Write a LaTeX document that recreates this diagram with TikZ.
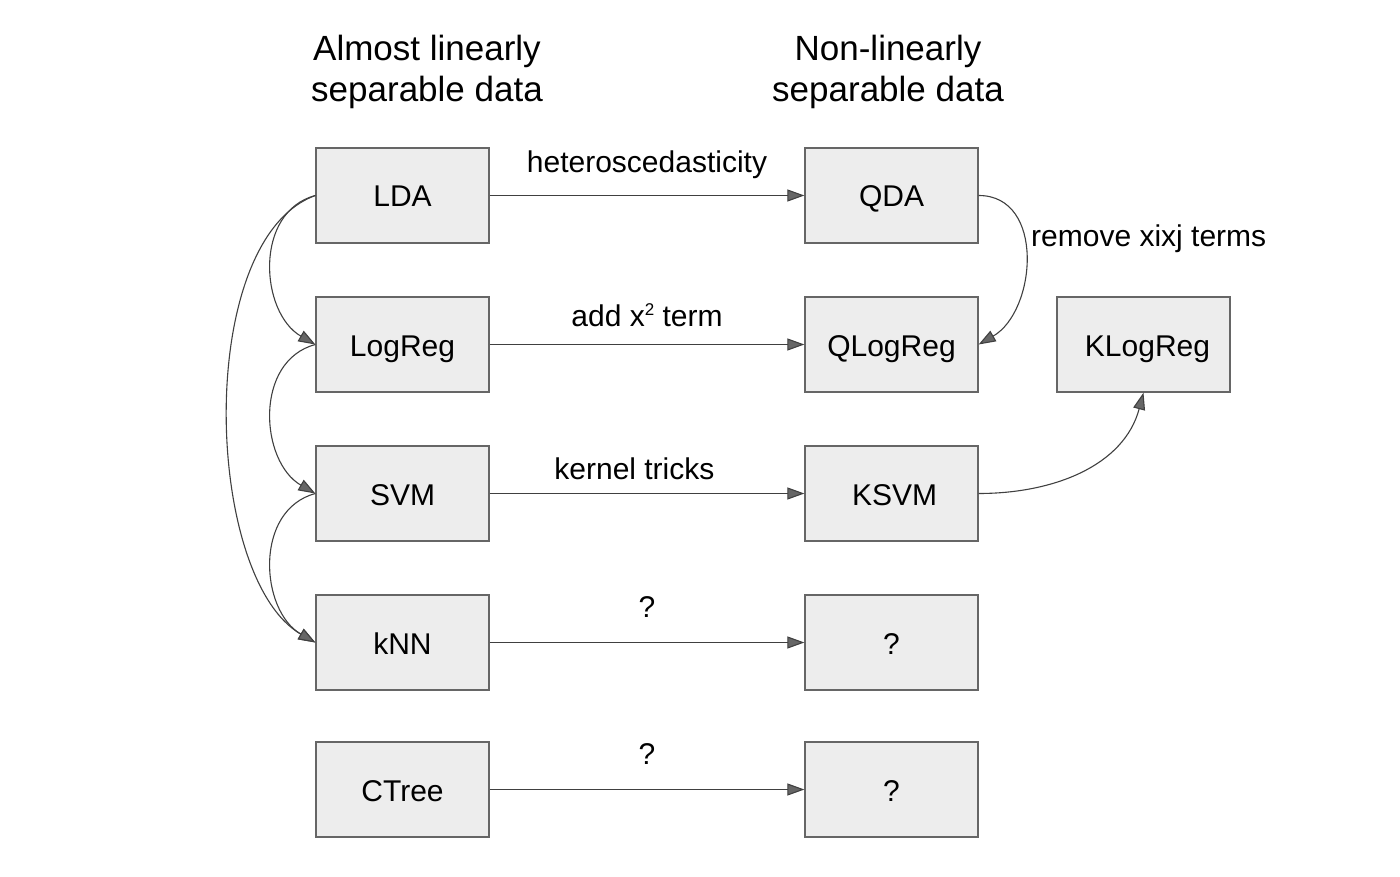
\documentclass[tikz,border=0pt]{standalone}
\usepackage{fontspec}
\setmainfont{Liberation Sans}
\usetikzlibrary{arrows.meta}
\begin{document}
\begin{tikzpicture}[x=1pt,y=-1pt,
  box/.style={draw=black!60, fill=black!7, line width=1.3pt, minimum width=173pt, minimum height=95pt, inner sep=0pt, text height=23pt, text depth=0pt, font=\fontsize{30}{36}\selectfont},
  conn/.style={draw=black!75, line width=1.1pt, -{Triangle[length=17pt,width=12pt,fill=black!60]}},
  lbl/.style={font=\fontsize{30}{36}\selectfont, inner sep=0pt},
  title/.style={font=\fontsize{35}{41}\selectfont, align=center, inner sep=0pt}]
\fill[white] (0,0) rectangle (1400,877);
\useasboundingbox (0,0) rectangle (1400,877);
\node[title] (t1) at (427,72) {Almost linearly\\separable data};
\node[title] (t2) at (888,72) {Non-linearly\\separable data};
\node[box] (lda) at (402.5,195.5) {LDA};
\node[box] (qda) at (891.5,195.5) {QDA};
\node[box] (logreg) at (402.5,344.5) {LogReg};
\node[box] (qlogreg) at (891.5,344.5) {QLogReg};
\node[box] (klogreg) at (1143.5,344.5) {\hspace*{8pt}KLogReg};
\node[box] (svm) at (402.5,493.5) {SVM};
\node[box] (ksvm) at (891.5,493.5) {\hspace*{6pt}KSVM};
\node[box] (knn) at (402.5,642.5) {kNN};
\node[box] (q1) at (891.5,642.5) {?};
\node[box] (ctree) at (402.5,789.5) {CTree};
\node[box] (q2) at (891.5,789.5) {?};
\draw[conn] (lda) -- (qda) node[lbl, midway, above=16pt] (l1) {heteroscedasticity};
\draw[conn] (logreg) -- (qlogreg) node[lbl, midway, above=17pt] (l2) {add x\raisebox{11pt}{\fontsize{17}{17}\selectfont 2} term};
\draw[conn] (svm) -- (ksvm) node[lbl, pos=0.46, above=13pt] (l3) {kernel tricks};
\draw[conn] (knn) -- (q1) node[lbl, midway, above=24pt] (l4) {?};
\draw[conn] (ctree) -- (q2) node[lbl, midway, above=24pt] (l5) {?};
\draw[conn] (lda.west) to[out=195, in=150, looseness=1.1] (logreg.west);
\draw[conn] (logreg.west) to[out=195, in=150, looseness=1.1] (svm.west);
\draw[conn] (svm.west) to[out=195, in=150, looseness=1.1] (knn.west);
\draw[conn] (lda.west) to[out=200, in=150, looseness=0.74] (knn.west);
\draw[conn] (qda.east) to[out=0, in=30, looseness=1.15] (qlogreg.east);
\node[lbl, anchor=west] (l6) at (1031,239) {remove xixj terms};
\draw[conn] (ksvm.east) to[out=0, in=255, looseness=1] (klogreg.south);
\end{tikzpicture}
\end{document}
